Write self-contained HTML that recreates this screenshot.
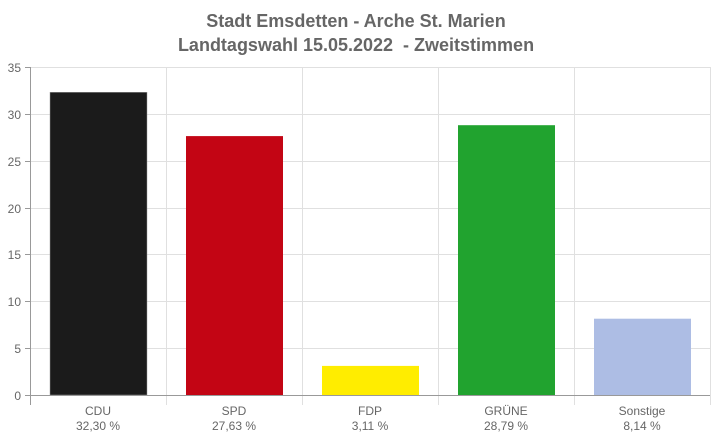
<!DOCTYPE html>
<html><head><style>body{margin:0;background:#fff}svg{display:block}</style></head><body>
<svg width="712" height="439" xmlns="http://www.w3.org/2000/svg" font-family="Liberation Sans, Arial, sans-serif">
<rect width="712" height="439" fill="#fff"/>
<text x="356" y="27" text-anchor="middle" font-size="18" font-weight="bold" fill="#666">Stadt Emsdetten - Arche St. Marien</text>
<text x="356" y="51" text-anchor="middle" font-size="18" font-weight="bold" fill="#666">Landtagswahl 15.05.2022 &#160;- Zweitstimmen</text>
<g stroke="#e0e0e0" stroke-width="1">
<line x1="30" x2="710" y1="67.5" y2="67.5"/><line x1="30" x2="710" y1="114.5" y2="114.5"/>
<line x1="30" x2="710" y1="161.5" y2="161.5"/><line x1="30" x2="710" y1="208.5" y2="208.5"/>
<line x1="30" x2="710" y1="254.5" y2="254.5"/><line x1="30" x2="710" y1="301.5" y2="301.5"/>
<line x1="30" x2="710" y1="348.5" y2="348.5"/>
<line x1="166.5" x2="166.5" y1="67" y2="405"/><line x1="302.5" x2="302.5" y1="67" y2="405"/>
<line x1="438.5" x2="438.5" y1="67" y2="405"/><line x1="574.5" x2="574.5" y1="67" y2="405"/>
<line x1="710.5" x2="710.5" y1="67" y2="405"/>
</g>
<g stroke="#999" stroke-width="1">
<line x1="30.5" x2="30.5" y1="67" y2="405"/>
<line x1="25" x2="710" y1="395.5" y2="395.5"/>
<line x1="25" x2="30" y1="67.5" y2="67.5"/><line x1="25" x2="30" y1="114.5" y2="114.5"/>
<line x1="25" x2="30" y1="161.5" y2="161.5"/><line x1="25" x2="30" y1="208.5" y2="208.5"/>
<line x1="25" x2="30" y1="254.5" y2="254.5"/><line x1="25" x2="30" y1="301.5" y2="301.5"/>
<line x1="25" x2="30" y1="348.5" y2="348.5"/>
</g>
<g font-size="12" fill="#666" text-anchor="end">
<text x="21" y="72">35</text><text x="21" y="119">30</text><text x="21" y="166">25</text>
<text x="21" y="213">20</text><text x="21" y="259">15</text><text x="21" y="306">10</text>
<text x="21" y="353">5</text><text x="21" y="400">0</text>
</g>
<rect x="50" y="92.3" width="97" height="302.7" fill="#1b1b1b" stroke="#999" stroke-width="0.5"/>
<rect x="186" y="136.1" width="97" height="258.9" fill="#c30514"/>
<rect x="322" y="365.9" width="97" height="29.1" fill="#ffed00"/>
<rect x="458" y="125.2" width="97" height="269.8" fill="#21a32f"/>
<rect x="594" y="318.7" width="97" height="76.3" fill="#adbde4"/>
<g font-size="12" fill="#666" text-anchor="middle">
<text x="98" y="415">CDU</text><text x="98" y="430">32,30 %</text>
<text x="234" y="415">SPD</text><text x="234" y="430">27,63 %</text>
<text x="370" y="415">FDP</text><text x="370" y="430">3,11 %</text>
<text x="506" y="415">GRÜNE</text><text x="506" y="430">28,79 %</text>
<text x="642" y="415">Sonstige</text><text x="642" y="430">8,14 %</text>
</g>
</svg>
</body></html>
